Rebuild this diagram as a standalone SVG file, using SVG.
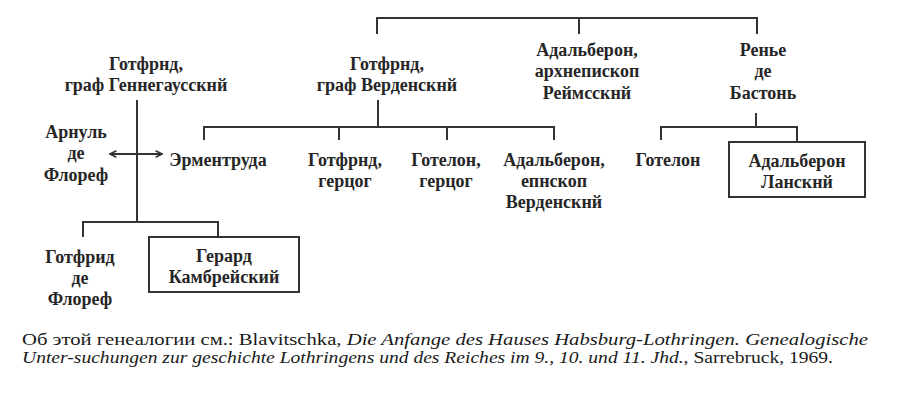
<svg xmlns="http://www.w3.org/2000/svg" width="900" height="409" viewBox="0 0 900 409">
<defs>
<marker id="ah" viewBox="0 0 10 10" refX="9" refY="5" markerWidth="8" markerHeight="8" markerUnits="userSpaceOnUse" orient="auto-start-reverse">
<path d="M1,1 L9,5 L1,9" fill="none" stroke="#333" stroke-width="2"/>
</marker>
</defs>
<rect width="900" height="409" fill="#fff"/>
<g id="connectors" fill="none" stroke="#333" stroke-width="2">
<path d="M377,34 V18 H757 V34 M579,18 V34"/>
<path d="M378,100 V127 M204,140 V127 H554 V140 M339,127 V140 M447,127 V140"/>
<path d="M756,113 V127 M661,140 V127 H797 V142"/>
<path d="M137,100 V222 M83,237 V222 H218 V237"/>
<path d="M110,154 H162" marker-start="url(#ah)" marker-end="url(#ah)"/>
</g>
<g font-size="18" font-weight="bold" fill="#262626" text-anchor="middle">
<g id="n-gotfrid-gennegau"><text style="font-family:'Liberation Serif',serif !important" x="146" y="70">Готфрнд,</text><text style="font-family:'Liberation Serif',serif !important" x="146" y="91">граф Геннегаусскнй</text></g>
<g id="n-gotfrid-verden"><text style="font-family:'Liberation Serif',serif !important" x="387" y="70">Готфрнд,</text><text style="font-family:'Liberation Serif',serif !important" x="387" y="91">граф Верденскнй</text></g>
<g id="n-adalberon-reims"><text style="font-family:'Liberation Serif',serif !important" x="587" y="56">Адальберон,</text><text style="font-family:'Liberation Serif',serif !important" x="587" y="77">архнепископ</text><text style="font-family:'Liberation Serif',serif !important" x="587" y="99">Реймсскнй</text></g>
<g id="n-renier"><text style="font-family:'Liberation Serif',serif !important" x="763" y="56">Ренье</text><text style="font-family:'Liberation Serif',serif !important" x="763" y="77">де</text><text style="font-family:'Liberation Serif',serif !important" x="763" y="99">Бастонь</text></g>
<g id="n-arnul"><text style="font-family:'Liberation Serif',serif !important" x="76" y="138">Арнуль</text><text style="font-family:'Liberation Serif',serif !important" x="76" y="159">де</text><text style="font-family:'Liberation Serif',serif !important" x="76" y="181">Флореф</text></g>
<g id="n-ermentruda"><text style="font-family:'Liberation Serif',serif !important" x="218" y="166">Эрментруда</text></g>
<g id="n-gotfrid-duke"><text style="font-family:'Liberation Serif',serif !important" x="345" y="166">Готфрнд,</text><text style="font-family:'Liberation Serif',serif !important" x="345" y="187">герцог</text></g>
<g id="n-gotelon-duke"><text style="font-family:'Liberation Serif',serif !important" x="446" y="166">Готелон,</text><text style="font-family:'Liberation Serif',serif !important" x="446" y="187">герцог</text></g>
<g id="n-adalberon-verden"><text style="font-family:'Liberation Serif',serif !important" x="554" y="166">Адальберон,</text><text style="font-family:'Liberation Serif',serif !important" x="554" y="187">епнскоп</text><text style="font-family:'Liberation Serif',serif !important" x="554" y="208">Верденскнй</text></g>
<g id="n-gotelon"><text style="font-family:'Liberation Serif',serif !important" x="668" y="166">Готелон</text></g>
<g id="n-adalberon-lan"><rect x="729" y="142" width="136" height="55" fill="#fff" stroke="#333" stroke-width="2"/><text style="font-family:'Liberation Serif',serif !important" x="797" y="167">Адальберон</text><text style="font-family:'Liberation Serif',serif !important" x="797" y="188">Ланскнй</text></g>
<g id="n-gotfrid-floref"><text style="font-family:'Liberation Serif',serif !important" x="80" y="263">Готфрид</text><text style="font-family:'Liberation Serif',serif !important" x="80" y="284">де</text><text style="font-family:'Liberation Serif',serif !important" x="80" y="305">Флореф</text></g>
<g id="n-gerard"><rect x="149" y="237" width="150" height="55" fill="#fff" stroke="#333" stroke-width="2"/><text style="font-family:'Liberation Serif',serif !important" x="224" y="262">Герард</text><text style="font-family:'Liberation Serif',serif !important" x="224" y="283">Камбрейский</text></g>
</g>
<g id="caption" font-size="16" fill="#1a1a1a">
<text style="font-family:'Liberation Serif',serif !important" x="22" y="345" textLength="846" lengthAdjust="spacingAndGlyphs">Об этой генеалогии см.: Blavitschka, <tspan font-style="italic">Die Anfange des Hauses Habsburg-Lothringen. Genealogische</tspan></text>
<text style="font-family:'Liberation Serif',serif !important" x="22" y="363" textLength="811" lengthAdjust="spacingAndGlyphs"><tspan font-style="italic">Unter-suchungen zur geschichte Lothringens und des Reiches im 9., 10. und 11. Jhd.</tspan>, Sarrebruck, 1969.</text>
</g>
</svg>
